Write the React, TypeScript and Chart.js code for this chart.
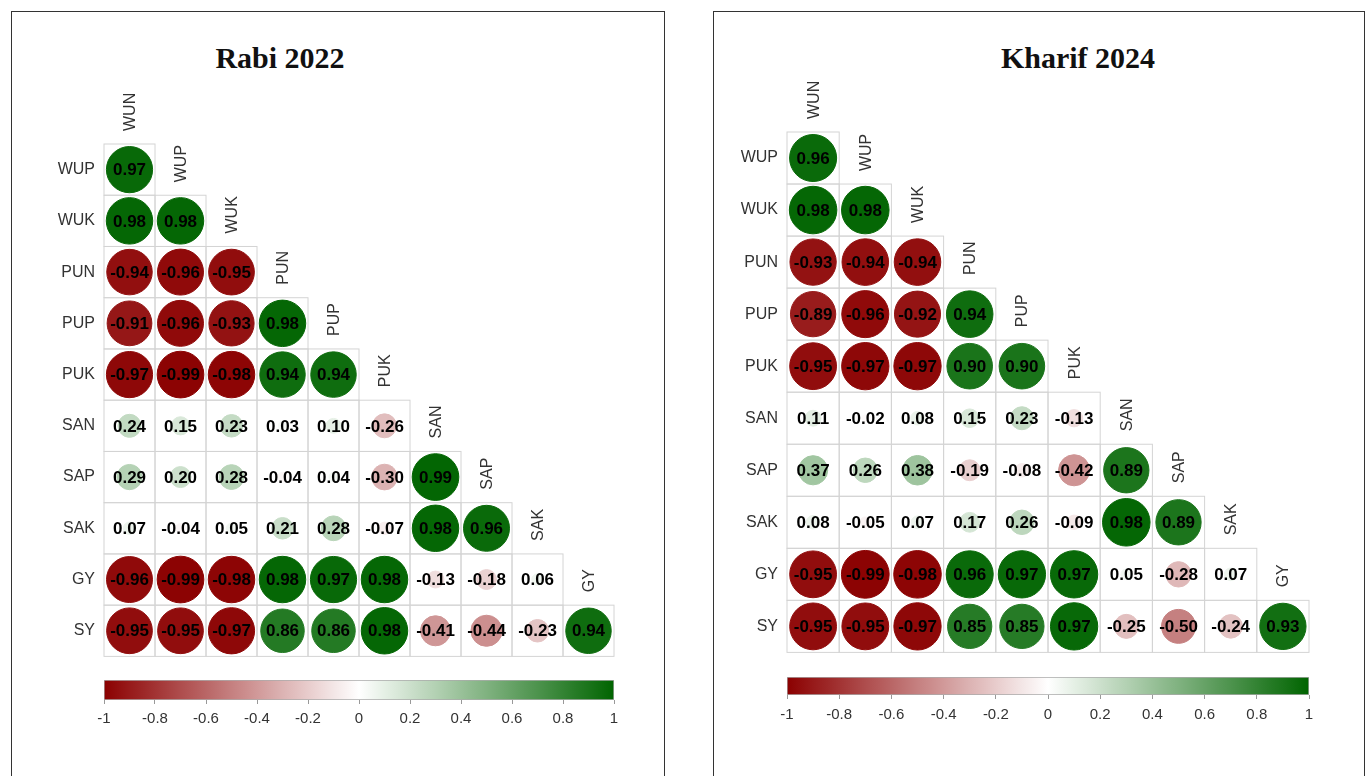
import React, { useEffect, useRef } from "react";
import { Chart, registerables } from "chart.js";

Chart.register(...registerables);
Chart.defaults.font.family = '"Liberation Sans", Arial, Helvetica, sans-serif';

// ---------------- DATA ----------------
const ROW_LABELS = ["WUP", "WUK", "PUN", "PUP", "PUK", "SAN", "SAP", "SAK", "GY", "SY"];
const COL_LABELS = ["WUN", "WUP", "WUK", "PUN", "PUP", "PUK", "SAN", "SAP", "SAK", "GY"];

const RABI_2022: number[][] = [
  [0.97],
  [0.98, 0.98],
  [-0.94, -0.96, -0.95],
  [-0.91, -0.96, -0.93, 0.98],
  [-0.97, -0.99, -0.98, 0.94, 0.94],
  [0.24, 0.15, 0.23, 0.03, 0.1, -0.26],
  [0.29, 0.2, 0.28, -0.04, 0.04, -0.3, 0.99],
  [0.07, -0.04, 0.05, 0.21, 0.28, -0.07, 0.98, 0.96],
  [-0.96, -0.99, -0.98, 0.98, 0.97, 0.98, -0.13, -0.18, 0.06],
  [-0.95, -0.95, -0.97, 0.86, 0.86, 0.98, -0.41, -0.44, -0.23, 0.94],
];

const KHARIF_2024: number[][] = [
  [0.96],
  [0.98, 0.98],
  [-0.93, -0.94, -0.94],
  [-0.89, -0.96, -0.92, 0.94],
  [-0.95, -0.97, -0.97, 0.9, 0.9],
  [0.11, -0.02, 0.08, 0.15, 0.23, -0.13],
  [0.37, 0.26, 0.38, -0.19, -0.08, -0.42, 0.89],
  [0.08, -0.05, 0.07, 0.17, 0.26, -0.09, 0.98, 0.89],
  [-0.95, -0.99, -0.98, 0.96, 0.97, 0.97, 0.05, -0.28, 0.07],
  [-0.95, -0.95, -0.97, 0.85, 0.85, 0.97, -0.25, -0.5, -0.24, 0.93],
];

const COLORBAR_TICKS = [-1, -0.8, -0.6, -0.4, -0.2, 0, 0.2, 0.4, 0.6, 0.8, 1];

// ---------------- STYLE ----------------
const NEG_END = [139, 0, 0];
const POS_END = [0, 100, 0];

function corrColor(r: number): string {
  const t = Math.min(1, Math.abs(r));
  const end = r < 0 ? NEG_END : POS_END;
  const c = end.map((e) => Math.round(255 + (e - 255) * t));
  return `rgb(${c[0]},${c[1]},${c[2]})`;
}

type Geom = {
  gridLeft: number;
  gridTop: number;
  gridRight: number;
  gridBottom: number;
  cbTop: number;
  cbBottom: number;
  cbLabelPad: number;
  titleCx: number;
  panelLeft: number;
  panelWidth: number;
};

const AXIS_W = 80;
const TOP_SPACE = 60;
const RIGHT_SPACE = 20;
const BOTTOM_SPACE = 4;

function CorrMatrix({ values, g }: { values: number[][]; g: Geom }) {
  const ref = useRef<HTMLCanvasElement>(null);
  const w = AXIS_W + (g.gridRight - g.gridLeft) + RIGHT_SPACE;
  const h = TOP_SPACE + (g.gridBottom - g.gridTop) + BOTTOM_SPACE;

  useEffect(() => {
    if (!ref.current) return;
    const points: { x: number; y: number; v: number }[] = [];
    values.forEach((row, i) => row.forEach((v, j) => points.push({ x: j, y: i, v })));

    const cellSize = (chart: any) => {
      const xs = chart.scales.x;
      const ys = chart.scales.y;
      return {
        cw: Math.abs(xs.getPixelForValue(1) - xs.getPixelForValue(0)),
        ch: Math.abs(ys.getPixelForValue(1) - ys.getPixelForValue(0)),
      };
    };

    const radiusFor = (c: any) => {
      const raw = c.raw;
      if (!raw || !c.chart.chartArea) return 0;
      const { cw } = cellSize(c.chart);
      return Math.sqrt(Math.abs(raw.v)) * cw * 0.46;
    };

    const cellPlugin = {
      id: "corrCells",
      beforeDatasetsDraw(chart: any) {
        const { ctx } = chart;
        const xs = chart.scales.x;
        const ys = chart.scales.y;
        const { cw, ch } = cellSize(chart);
        ctx.save();
        ctx.strokeStyle = "#d4d4d4";
        ctx.lineWidth = 1;
        values.forEach((row, i) =>
          row.forEach((_, j) => {
            const cx = xs.getPixelForValue(j);
            const cy = ys.getPixelForValue(i);
            ctx.strokeRect(cx - cw / 2, cy - ch / 2, cw, ch);
          })
        );
        ctx.restore();
      },
      afterDatasetsDraw(chart: any) {
        const { ctx } = chart;
        const xs = chart.scales.x;
        const ys = chart.scales.y;
        const { ch } = cellSize(chart);
        ctx.save();
        ctx.font = 'bold 17px "Liberation Sans", Arial, sans-serif';
        ctx.textAlign = "center";
        ctx.textBaseline = "middle";
        ctx.fillStyle = "#000";
        values.forEach((row, i) =>
          row.forEach((v, j) => {
            ctx.fillText(v.toFixed(2), xs.getPixelForValue(j), ys.getPixelForValue(i) + 1);
          })
        );
        ctx.font = '16px "Liberation Sans", Arial, sans-serif';
        ctx.fillStyle = "#333";
        ctx.textAlign = "left";
        COL_LABELS.forEach((name, j) => {
          const cx = xs.getPixelForValue(j);
          const base = ys.getPixelForValue(j - 1) + ch / 2 - 13;
          ctx.save();
          ctx.translate(cx + 1, base);
          ctx.rotate(-Math.PI / 2);
          ctx.fillText(name, 0, 0);
          ctx.restore();
        });
        ctx.restore();
      },
    };

    const chart = new Chart(ref.current, {
      type: "scatter",
      data: {
        datasets: [
          {
            data: points as any,
            pointRadius: radiusFor,
            pointHoverRadius: radiusFor,
            pointBackgroundColor: (c: any) => (c.raw ? corrColor(c.raw.v) : "#fff"),
            pointBorderColor: (c: any) => (c.raw ? corrColor(c.raw.v) : "#fff"),
            pointBorderWidth: 1,
          } as any,
        ],
      },
      options: {
        animation: false,
        responsive: false,
        maintainAspectRatio: false,
        events: [],
        layout: { padding: { left: 0, top: TOP_SPACE, right: RIGHT_SPACE, bottom: BOTTOM_SPACE } },
        plugins: { legend: { display: false }, tooltip: { enabled: false } },
        scales: {
          x: { type: "linear", min: -0.5, max: 9.5, display: false },
          y: {
            type: "linear",
            min: -0.5,
            max: 9.5,
            reverse: true,
            afterBuildTicks: (s: any) => {
              s.ticks = ROW_LABELS.map((_, i) => ({ value: i }));
            },
            afterFit: (s: any) => {
              s.width = AXIS_W;
            },
            ticks: {
              autoSkip: false,
              padding: 9,
              color: "#333",
              font: { size: 16 },
              callback: (v: any) => ROW_LABELS[Math.round(Number(v))] ?? "",
            },
            grid: { display: false, drawTicks: false },
            border: { display: false },
          },
        },
      } as any,
      plugins: [cellPlugin],
    });
    return () => chart.destroy();
  }, [values]);

  return (
    <canvas
      ref={ref}
      width={w}
      height={h}
      style={{
        position: "absolute",
        left: g.gridLeft - AXIS_W,
        top: g.gridTop - TOP_SPACE,
        width: w,
        height: h,
      }}
    />
  );
}

const CB_SIDE = 20;
const CB_AXIS_H = 34;

function ColorBar({ g }: { g: Geom }) {
  const ref = useRef<HTMLCanvasElement>(null);
  const w = g.gridRight - g.gridLeft + 2 * CB_SIDE;
  const h = 1 + (g.cbBottom - g.cbTop) + CB_AXIS_H;

  useEffect(() => {
    if (!ref.current) return;
    const chart = new Chart(ref.current, {
      type: "bar",
      data: {
        labels: ["r"],
        datasets: [
          {
            data: [[-1, 1]] as any,
            backgroundColor: (c: any) => {
              const area = c.chart.chartArea;
              if (!area) return "#fff";
              const grad = c.chart.ctx.createLinearGradient(area.left, 0, area.right, 0);
              const n = 40;
              for (let k = 0; k <= n; k++) grad.addColorStop(k / n, corrColor(-1 + (2 * k) / n));
              return grad;
            },
            borderColor: "#aaaaaa",
            borderWidth: 1,
            borderSkipped: false,
            barPercentage: 1,
            categoryPercentage: 1,
          } as any,
        ],
      },
      options: {
        indexAxis: "y",
        animation: false,
        responsive: false,
        maintainAspectRatio: false,
        events: [],
        layout: { padding: { left: CB_SIDE, right: CB_SIDE, top: 1, bottom: 0 } },
        plugins: { legend: { display: false }, tooltip: { enabled: false } },
        scales: {
          x: {
            type: "linear",
            min: -1,
            max: 1,
            afterBuildTicks: (s: any) => {
              s.ticks = COLORBAR_TICKS.map((v) => ({ value: v }));
            },
            afterFit: (s: any) => {
              s.height = CB_AXIS_H;
            },
            ticks: {
              autoSkip: false,
              maxRotation: 0,
              padding: g.cbLabelPad,
              color: "#333",
              font: { size: 15 },
              callback: (v: any) => String(Math.round(Number(v) * 10) / 10),
            },
            grid: { drawOnChartArea: false, drawTicks: true, tickLength: 4, color: "#999" },
            border: { display: false },
          },
          y: { display: false },
        },
      } as any,
    });
    return () => chart.destroy();
  }, []);

  return (
    <canvas
      ref={ref}
      width={w}
      height={h}
      style={{ position: "absolute", left: g.gridLeft - CB_SIDE, top: g.cbTop - 1, width: w, height: h }}
    />
  );
}

function Panel({ title, values, g }: { title: string; values: number[][]; g: Geom }) {
  return (
    <>
      <div
        style={{
          position: "absolute",
          left: g.panelLeft,
          top: 11,
          width: g.panelWidth - 2,
          height: 800,
          border: "1px solid #333",
          boxSizing: "content-box",
        }}
      />
      <div
        style={{
          position: "absolute",
          left: g.titleCx - 200,
          width: 400,
          top: 43,
          textAlign: "center",
          fontFamily: '"Liberation Serif", "Times New Roman", serif',
          fontWeight: "bold",
          fontSize: 30,
          lineHeight: "30px",
          color: "#111",
          whiteSpace: "nowrap",
        }}
      >
        {title}
      </div>
      <CorrMatrix values={values} g={g} />
      <ColorBar g={g} />
    </>
  );
}

const LEFT_GEOM: Geom = {
  gridLeft: 104,
  gridTop: 144,
  gridRight: 614,
  gridBottom: 671,
  cbTop: 680,
  cbBottom: 700,
  cbLabelPad: 6,
  titleCx: 280,
  panelLeft: 11,
  panelWidth: 654,
};

const RIGHT_GEOM: Geom = {
  gridLeft: 787,
  gridTop: 132,
  gridRight: 1309,
  gridBottom: 667,
  cbTop: 677,
  cbBottom: 695,
  cbLabelPad: 7,
  titleCx: 1078,
  panelLeft: 713,
  panelWidth: 652,
};

export default function App() {
  return (
    <div
      style={{
        position: "absolute",
        left: 0,
        top: 0,
        width: 1368,
        height: 776,
        overflow: "hidden",
        background: "#fff",
      }}
    >
      <Panel title="Rabi 2022" values={RABI_2022} g={LEFT_GEOM} />
      <Panel title="Kharif 2024" values={KHARIF_2024} g={RIGHT_GEOM} />
    </div>
  );
}
